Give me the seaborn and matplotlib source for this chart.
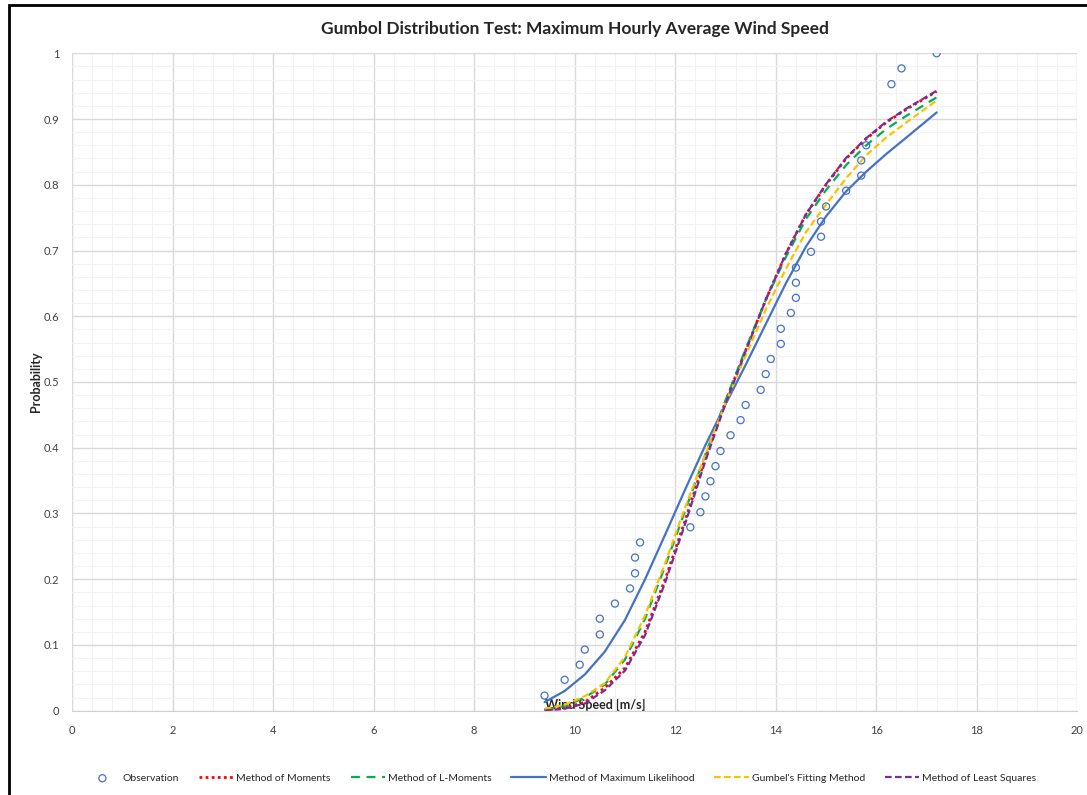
import numpy as np
import pandas as pd
import matplotlib
matplotlib.use("Agg")
import matplotlib.pyplot as plt
from matplotlib.patches import Rectangle
from matplotlib.ticker import MultipleLocator, FuncFormatter
import seaborn as sns

# observed maximum hourly average wind speeds and plotting positions
obs_speed = [9.4, 9.8, 10.1, 10.2, 10.5, 10.5, 10.8, 11.1, 11.2, 11.2,
             11.3, 12.3, 12.5, 12.6, 12.7, 12.8, 12.9, 13.1, 13.3, 13.4,
             13.7, 13.8, 13.9, 14.1, 14.1, 14.3, 14.4, 14.4, 14.4, 14.7,
             14.9, 14.9, 15.0, 15.4, 15.7, 15.7, 15.8, 16.3, 16.5, 17.2]
obs_prob = [0.023, 0.047, 0.070, 0.093, 0.116, 0.140, 0.163, 0.186, 0.209, 0.233,
            0.256, 0.279, 0.302, 0.326, 0.349, 0.372, 0.395, 0.419, 0.442, 0.465,
            0.488, 0.512, 0.535, 0.558, 0.581, 0.605, 0.628, 0.651, 0.674, 0.698,
            0.721, 0.744, 0.767, 0.791, 0.814, 0.837, 0.860, 0.953, 0.977, 1.000]

# fitted Gumbel CDFs
fit_speed = [9.4, 9.8, 10.2, 10.6, 11.0, 11.4, 11.8, 12.2, 12.6, 13.0,
             13.4, 13.8, 14.2, 14.6, 15.0, 15.4, 15.8, 16.2, 16.6, 17.2]
moments = [0.001, 0.004, 0.013, 0.035, 0.065, 0.120, 0.200, 0.290, 0.385, 0.470,
           0.548, 0.625, 0.695, 0.755, 0.800, 0.840, 0.870, 0.895, 0.915, 0.942]
l_moments = [0.002, 0.007, 0.020, 0.040, 0.078, 0.140, 0.220, 0.305, 0.390, 0.472,
             0.550, 0.625, 0.690, 0.748, 0.792, 0.830, 0.860, 0.885, 0.905, 0.933]
max_likelihood = [0.013, 0.030, 0.055, 0.090, 0.138, 0.200, 0.268, 0.337, 0.404, 0.466,
                  0.526, 0.588, 0.650, 0.706, 0.752, 0.790, 0.820, 0.847, 0.872, 0.910]
gumbel_fit = [0.003, 0.009, 0.022, 0.042, 0.082, 0.145, 0.225, 0.310, 0.390, 0.468,
              0.540, 0.610, 0.672, 0.728, 0.770, 0.810, 0.845, 0.872, 0.895, 0.928]
least_squares = [0.000, 0.003, 0.011, 0.031, 0.061, 0.115, 0.195, 0.285, 0.380, 0.467,
                 0.547, 0.625, 0.695, 0.755, 0.801, 0.841, 0.871, 0.896, 0.916, 0.943]

sns.set_style("white")
plt.rcParams["font.family"] = ["Lato", "DejaVu Sans"]

fig = plt.figure(figsize=(10.87, 7.95), dpi=100)
ax = fig.add_axes([0.0662, 0.106, 0.925, 0.827])

sns.scatterplot(x=obs_speed, y=obs_prob, ax=ax, marker="o", s=26,
                facecolors="none", edgecolor="#4472C4", linewidth=0.9,
                label="Observation", zorder=5)

# one line per fitting method
curves = [
    (moments, "Method of Moments", "#FF0000", (0, (1, 1.2)), 2.0),
    (l_moments, "Method of L-Moments", "#00B050", (0, (4, 3)), 1.6),
    (max_likelihood, "Method of Maximum Likelihood", "#4472C4", "-", 1.6),
    (gumbel_fit, "Gumbel's Fitting Method", "#FFC000", (0, (3, 1.5)), 1.6),
    (least_squares, "Method of Least Squares", "#7030A0", (0, (3, 1.5)), 1.6),
]
for vals, name, col, ls, lw in curves:
    sns.lineplot(x=fit_speed, y=vals, ax=ax, color=col, linestyle=ls,
                 linewidth=lw, label=name)

ax.set_xlim(0, 20)
ax.set_ylim(0, 1)
ax.xaxis.set_major_locator(MultipleLocator(2))
ax.xaxis.set_minor_locator(MultipleLocator(0.4))
ax.yaxis.set_major_locator(MultipleLocator(0.1))
ax.yaxis.set_minor_locator(MultipleLocator(0.02))
ax.yaxis.set_major_formatter(FuncFormatter(lambda v, p: f"{v:g}"))
ax.grid(which="major", color="#d9d9d9", linewidth=1.0)
ax.grid(which="minor", color="#f2f2f2", linewidth=0.8)
ax.set_axisbelow(True)
for side in ["top", "right", "left"]:
    ax.spines[side].set_visible(False)
ax.spines["bottom"].set_color("#d0d0d0")
ax.tick_params(axis="both", which="both", length=0, labelsize=8, colors="#404040")
ax.tick_params(axis="x", pad=10)
ax.tick_params(axis="y", pad=9)

ax.set_title("Gumbol Distribution Test: Maximum Hourly Average Wind Speed",
             fontsize=12.5, fontweight="bold", pad=14)
ax.set_ylabel("Probability", fontsize=9, fontweight="bold")
ax.yaxis.set_label_coords(-0.03, 0.5)
ax.set_xlabel("Wind Speed [m/s]", fontsize=9, fontweight="bold", va="center")
ax.xaxis.set_label_coords(0.52, 0.01)

handles, labels = ax.get_legend_handles_labels()
ax.legend().remove()
fig.legend(handles, labels, loc="center", bbox_to_anchor=(0.516, 0.021), ncol=6,
           frameon=False, fontsize=7.5, handlelength=3.3, columnspacing=1.9,
           handletextpad=0.3)

# outer chart border (partly cropped in the reference)
fig.patches.append(Rectangle((0.0083, -0.2), 2.0, 1.1937, transform=fig.transFigure,
                             fill=False, edgecolor="black", linewidth=2, clip_on=False))

fig.savefig("out.png", dpi=100)
